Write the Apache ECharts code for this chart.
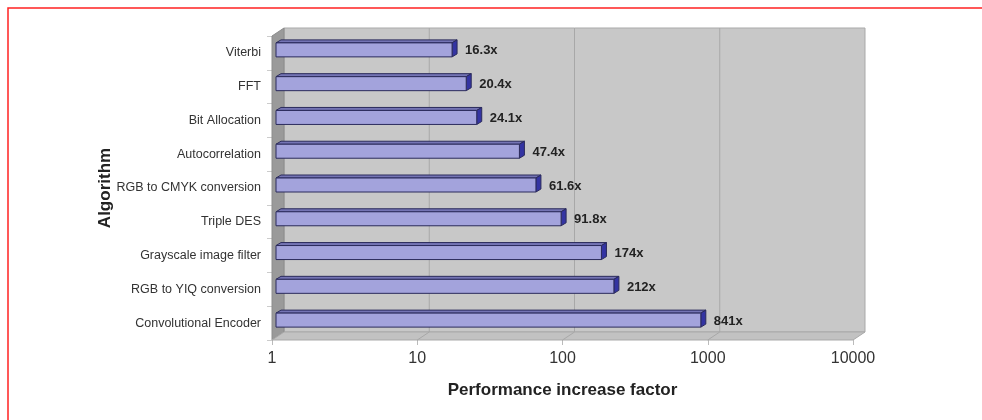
<!DOCTYPE html>
<html>
<head>
<meta charset="utf-8">
<script src="https://cdn.jsdelivr.net/npm/echarts@6/dist/echarts.min.js"></script>
<style>
  html, body { margin: 0; padding: 0; background: #fff; }
</style>
</head>
<body>
<div id="myChart" style="width: 982px; height: 420px;"></div>
<script>
// chart data, top to bottom
var algorithms = ['Viterbi', 'FFT', 'Bit Allocation', 'Autocorrelation', 'RGB to CMYK conversion',
  'Triple DES', 'Grayscale image filter', 'RGB to YIQ conversion', 'Convolutional Encoder'];
var speedups = [16.3, 20.4, 24.1, 47.4, 61.6, 91.8, 174, 212, 841];
var speedupLabels = ['16.3x', '20.4x', '24.1x', '47.4x', '61.6x', '91.8x', '174x', '212x', '841x'];
var tickLabels = ['1', '10', '100', '1000', '10000'];
var gridValues = [10, 100, 1000];

var FONT = '"Liberation Sans", Arial, sans-serif';
// depth of the box and of the bars
var DX = 12, DY = -8;
var BX = 5, BY = -3;

var myChart = echarts.init(document.getElementById('myChart'));

// back wall, side wall, floor and grid lines
function renderWalls(params, api) {
  var cs = params.coordSys;
  var x0 = cs.x, x1 = cs.x + cs.width, y0 = cs.y, y1 = cs.y + cs.height;
  var kids = [];
  kids.push({ type: 'polygon', shape: { points: [[x0 + DX, y0 + DY], [x1 + DX, y0 + DY], [x1 + DX, y1 + DY], [x0 + DX, y1 + DY]] },
    style: { fill: '#c8c8c8', stroke: '#a9a9a9', lineWidth: 1 } });
  kids.push({ type: 'polygon', shape: { points: [[x0, y0], [x0 + DX, y0 + DY], [x0 + DX, y1 + DY], [x0, y1]] },
    style: { fill: '#9a9a9a', stroke: '#8c8c8c', lineWidth: 1 } });
  kids.push({ type: 'polygon', shape: { points: [[x0, y1], [x1, y1], [x1 + DX, y1 + DY], [x0 + DX, y1 + DY]] },
    style: { fill: '#c2c2c2', stroke: '#a9a9a9', lineWidth: 1 } });
  gridValues.forEach(function (v) {
    var gx = api.coord([v, 0])[0];
    kids.push({ type: 'polyline', shape: { points: [[gx, y1], [gx + DX, y1 + DY], [gx + DX, y0 + DY]] },
      style: { fill: null, stroke: '#a8a8a8', lineWidth: 1 } });
  });
  return { type: 'group', children: kids };
}

// 3d-looking bar with its label
function renderBar(params, api) {
  var v = api.value(0), idx = api.value(1);
  var end = api.coord([v, idx]);
  var start = api.coord([1, idx]);
  var xa = start[0] + 4, xb = end[0] + 4;
  var yTop = end[1] - 10, yBot = end[1] + 4;
  var line = '#2b2b5c';
  return {
    type: 'group',
    children: [
      { type: 'polygon', shape: { points: [[xa, yTop], [xb, yTop], [xb + BX, yTop + BY], [xa + BX, yTop + BY]] },
        style: { fill: '#7474b4', stroke: line, lineWidth: 1 } },
      { type: 'polygon', shape: { points: [[xb, yTop], [xb + BX, yTop + BY], [xb + BX, yBot + BY], [xb, yBot]] },
        style: { fill: '#3434a2', stroke: line, lineWidth: 1 } },
      { type: 'rect', shape: { x: xa, y: yTop, width: xb - xa, height: yBot - yTop },
        style: { fill: '#a3a3dc', stroke: line, lineWidth: 1 } },
      { type: 'text', x: xb + BX + 8, y: end[1] - 2,
        style: { text: speedupLabels[idx], font: 'bold 13px ' + FONT, fill: '#222', verticalAlign: 'middle', align: 'left' } }
    ]
  };
}

myChart.setOption({
  animation: false,
  backgroundColor: '#fff',
  grid: { left: 272, right: 129, top: 36, bottom: 80 },
  graphic: [
    { type: 'polyline', shape: { points: [[8, 420], [8, 8], [982, 8]] },
      style: { fill: null, stroke: '#f22', lineWidth: 1.5 }, z: 100 }
  ],
  xAxis: {
    type: 'log',
    logBase: 10,
    min: 1,
    max: 10000,
    name: 'Performance increase factor',
    nameLocation: 'middle',
    nameGap: 42,
    nameTextStyle: { fontFamily: FONT, fontSize: 17, fontWeight: 'bold', color: '#222' },
    axisLine: { show: false },
    axisTick: { show: true, length: 5, lineStyle: { color: '#bbb' } },
    splitLine: { show: false },
    minorTick: { show: false },
    axisLabel: {
      margin: 11,
      fontFamily: FONT, fontSize: 16, color: '#333',
      formatter: function (value, index) { return tickLabels[index]; }
    }
  },
  yAxis: {
    type: 'category',
    inverse: true,
    data: algorithms,
    name: 'Algorithm',
    nameLocation: 'middle',
    nameGap: 158,
    nameMoveOverlap: false,
    nameTextStyle: { fontFamily: FONT, fontSize: 17, fontWeight: 'bold', color: '#222' },
    axisLine: { show: false },
    axisTick: { show: true, length: 5, lineStyle: { color: '#ccc' } },
    splitLine: { show: false },
    axisLabel: { margin: 11, fontFamily: FONT, fontSize: 12.5, color: '#333' }
  },
  series: [
    {
      type: 'custom',
      name: 'walls',
      renderItem: renderWalls,
      data: [[1, 0]],
      z: 1,
      silent: true
    },
    {
      type: 'custom',
      name: 'speedup',
      renderItem: renderBar,
      data: speedups.map(function (v, i) { return [v, i]; }),
      z: 2
    }
  ]
});
</script>
</body>
</html>
